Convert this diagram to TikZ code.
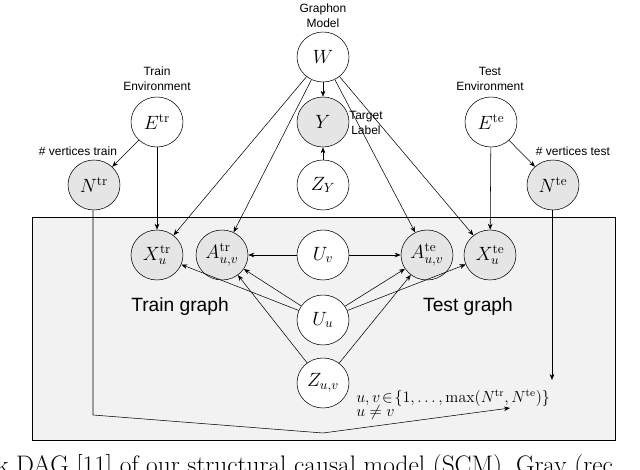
\documentclass[tikz,border=0pt]{standalone}
\usepackage{fontspec}
\newfontfamily\lab{Liberation Sans}
\usetikzlibrary{arrows.meta,shapes.geometric}
\begin{document}
\begin{tikzpicture}[x=0.75pt,y=-0.75pt,
  v/.style={draw,ellipse,minimum width=39pt,minimum height=37.5pt,inner sep=0pt,fill=white,font=\Large},
  g/.style={v,fill=gray!20},
  lb/.style={font=\lab\small,align=center,inner sep=0pt},
  e/.style={-{Stealth[length=4.5pt,width=3.5pt]},thin}]
\useasboundingbox (0,0) rectangle (640,470);
\clip (0,0) rectangle (640,470);
\draw[fill=gray!10] (32,217) rectangle (615,440);
\node[v] (W) at (323,57) {$W$};
\node[g] (Y) at (323,122) {$Y$};
\node[v] (ZY) at (323,185) {$Z_Y$};
\node[v] (Etr) at (157,122) {$E^{\mathrm{tr}}$};
\node[v] (Ete) at (491,122) {$E^{\mathrm{te}}$};
\node[g] (Ntr) at (94,185) {$N^{\mathrm{tr}}$};
\node[g] (Nte) at (553,185) {$N^{\mathrm{te}}$};
\node[g] (Xtr) at (157,255) {$X_u^{\mathrm{tr}}$};
\node[g] (Atr) at (222,255) {$A_{u,v}^{\mathrm{tr}}$};
\node[v] (Uv) at (323,255) {$U_v$};
\node[g] (Ate) at (427,255) {$A_{u,v}^{\mathrm{te}}$};
\node[g] (Xte) at (490,255) {$X_u^{\mathrm{te}}$};
\node[v] (Uu) at (323,320) {$U_u$};
\node[v] (Zuv) at (323,383) {$Z_{u,v}$};
\node[lb] (lW) at (323,16) {Graphon\\Model};
\node[lb] (lEtr) at (157,79) {Train\\Environment};
\node[lb] (lEte) at (490,79) {Test\\Environment};
\node[lb,anchor=west] (lY) at (349,123) {Target\\Label};
\node[lb] (lNtr) at (78,151) {\# vertices train};
\node[lb] (lNte) at (573,151) {\# vertices test};
\node[lb,font=\lab\Large] (ltr) at (180,307) {Train graph};
\node[lb,font=\lab\Large] (lte) at (468,307) {Test graph};
\node[anchor=west,inner sep=0pt,font=\large] (set) at (356,398) {$u,v\!\in\!\{1,\ldots,\max(N^{\mathrm{tr}},N^{\mathrm{te}})\}$};
\node[anchor=west,inner sep=0pt,font=\large] (neq) at (356,413) {$u\neq v$};
\coordinate (c1) at (93,415);
\coordinate (c2) at (323,433);
\coordinate (c3) at (510,408);
\coordinate (c4) at (552,380);
\draw[e] (Etr) -- (Ntr);
\draw[e] (Etr) -- (Xtr);
\draw[e] (Ete) -- (Nte);
\draw[e] (Ete) -- (Xte);
\draw[e] (W) -- (Y);
\draw[e] (ZY) -- (Y);
\draw[e] (W) -- (Xtr);
\draw[e] (W) -- (Atr);
\draw[e] (W) -- (Ate);
\draw[e] (W) -- (Xte);
\draw[e] (Uv) -- (Atr);
\draw[e] (Uv) -- (Ate);
\draw[e] (Uu) -- (Xtr);
\draw[e] (Uu) -- (Atr);
\draw[e] (Uu) -- (Ate);
\draw[e] (Uu) -- (Xte);
\draw[e] (Zuv) -- (Atr);
\draw[e] (Zuv) -- (Ate);
\draw[e] (Ntr.south -| c1) -- (c1) -- (c2) -- (c3);
\draw[e] (Nte.south -| c4) -- (c4);
\node[anchor=base west,inner sep=0pt,font=\fontsize{19}{22}\selectfont] (cap) at (-4,474) {k DAG [11] of our structural causal model (SCM). Gray (rec};
\end{tikzpicture}
\end{document}
